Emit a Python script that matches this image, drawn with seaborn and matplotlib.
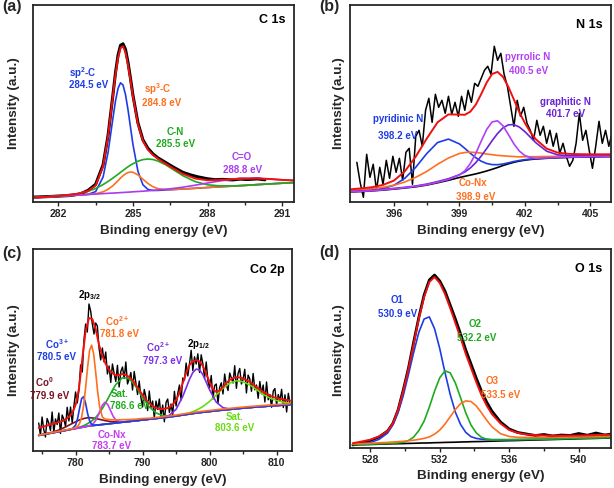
import numpy as np
import matplotlib
matplotlib.use("Agg")
import matplotlib.pyplot as plt
import seaborn as sns

# ---------------- (a) C 1s ----------------
a_x = [281.0, 282.0, 282.8, 283.2, 283.5, 283.8, 284.0, 284.2, 284.3, 284.4, 284.5, 284.6, 284.7, 284.8, 284.9,
       285.0, 285.2, 285.4, 285.6, 285.8, 286.0, 286.3, 286.6, 287.0, 287.5, 288.0, 288.5, 289.0, 289.5, 290.0,
       290.5, 291.0, 291.5]
a_base = [4.6, 6.1, 7.2, 7.8, 8.2, 8.7, 9.0, 9.2, 9.4, 9.5, 9.7, 9.8, 10.0, 10.1, 10.3, 10.4, 10.7, 11.0, 11.3,
          11.6, 11.9, 12.3, 12.7, 13.3, 14.0, 14.8, 15.5, 16.2, 16.9, 17.7, 18.4, 19.1, 19.8]
a_sp2 = [0, 0, 0, 0.2, 2.5, 16.6, 41.0, 75.7, 92.2, 104.4, 109.8, 107.5, 97.7, 82.6, 64.9, 47.4, 20.3, 6.5, 1.6,
         0.3, 0, 0, 0, 0, 0, 0, 0, 0, 0, 0, 0, 0, 0]
a_sp3 = [0, 0, 0, 0.1, 0.4, 1.8, 4.0, 7.5, 9.7, 12.1, 14.5, 16.7, 18.5, 19.6, 20.0, 19.6, 16.7, 12.1, 7.5, 4.0,
         1.8, 0.4, 0.1, 0, 0, 0, 0, 0, 0, 0, 0, 0, 0]
a_cn = [0, 0.2, 1.4, 3.3, 5.6, 9.0, 11.9, 15.1, 16.8, 18.5, 20.3, 22.0, 23.7, 25.4, 26.9, 28.2, 30.4, 31.7, 32.0,
        31.2, 29.4, 25.4, 20.3, 13.4, 6.7, 2.7, 0.9, 0.2, 0, 0, 0, 0, 0]
a_co = [0, 0, 0, 0, 0, 0, 0, 0, 0, 0, 0, 0, 0, 0, 0, 0.1, 0.1, 0.1, 0.2, 0.3, 0.4, 0.7, 1.1, 1.8, 3.1, 4.5, 5.9,
        6.8, 6.9, 6.2, 4.9, 3.3, 2.0]
a_fit = [4.6, 6.3, 8.6, 11.4, 16.7, 36.1, 65.9, 107.5, 128.1, 144.5, 154.3, 156.0, 149.9, 137.7, 122.1, 105.7,
         78.2, 61.4, 52.6, 47.4, 43.5, 38.8, 34.2, 28.5, 23.8, 22.0, 22.3, 23.2, 23.8, 23.9, 23.3, 22.4, 21.8]
a_data_x = [281.0, 281.5, 282.0, 282.5, 282.9, 283.2, 283.5, 283.8, 284.0, 284.2, 284.3, 284.4, 284.5, 284.6,
            284.7, 284.8, 284.9, 285.0, 285.2, 285.4, 285.6, 285.8, 286.0, 286.3, 286.6, 287.0, 287.3, 287.6,
            288.0, 288.3, 288.6, 289.0, 289.3, 289.6, 290.0, 290.3]
a_data = [5.2, 5.6, 6.2, 6.8, 8.5, 12.0, 18.0, 37.5, 67.0, 108.5, 130.0, 147.0, 157.0, 158.5, 153.0, 140.0,
          124.0, 107.0, 79.5, 62.5, 54.0, 48.5, 44.5, 40.0, 35.5, 30.0, 27.5, 25.5, 23.5, 22.6, 22.9, 22.4,
          23.2, 22.8, 23.4, 22.5]

# ---------------- (b) N 1s ----------------
b_x = [394.0, 394.5, 395.0, 395.5, 396.0, 396.5, 397.0, 397.5, 398.0, 398.5, 399.0, 399.25, 399.5, 399.75,
       400.0, 400.25, 400.5, 400.75, 401.0, 401.25, 401.5, 401.75, 402.0, 402.25, 402.5, 403.0, 403.5, 404.0,
       404.5, 405.0, 405.5, 406.0]
b_base = [10.3, 10.8, 11.4, 12.2, 13.2, 14.3, 15.5, 17.2, 19.5, 22.0, 24.8, 26.0, 27.2, 28.4, 29.8, 31.3, 33.0,
          34.8, 36.8, 38.5, 40.0, 41.2, 42.1, 42.8, 43.3, 44.0, 44.5, 44.9, 45.2, 45.4, 45.6, 45.7]
b_pyridinic = [0.5, 0.6, 0.8, 1.5, 3.8, 9.7, 19.5, 31.4, 40.3, 41.2, 33.6, 27.9, 21.9, 16.2, 11.3, 7.5, 4.7, 2.8,
               1.5, 1.0, 0.8, 0.6, 0.5, 0.4, 0.4, 0.3, 0.3, 0.2, 0.2, 0.2, 0.2, 0.2]
b_conx = [1.5, 1.8, 2.2, 2.8, 3.8, 6.0, 9.5, 13.6, 18.5, 22.3, 24.0, 23.8, 22.9, 21.4, 19.4, 17.0, 14.6, 12.1,
          9.7, 7.6, 5.8, 4.2, 3.5, 2.8, 2.3, 1.8, 1.5, 1.3, 1.2, 1.1, 1.0, 1.0]
b_pyrrolic = [0.2, 0.2, 0.2, 0.3, 0.3, 0.3, 0.4, 0.4, 0.5, 0.8, 2.5, 5.5, 11.5, 20.4, 31.3, 41.5, 47.4, 46.7,
              39.7, 29.1, 18.4, 10.0, 4.7, 1.9, 0.7, 0.5, 0.4, 0.4, 0.3, 0.3, 0.3, 0.3]
b_graphitic = [0.5, 0.5, 0.6, 0.6, 0.7, 0.7, 0.8, 1.0, 1.2, 1.6, 2.8, 4.3, 7.1, 11.2, 16.4, 22.4, 28.6, 34.0,
               37.7, 39.0, 37.7, 34.0, 28.6, 22.4, 16.4, 7.1, 3.0, 1.6, 1.2, 1.0, 0.9, 0.8]
b_fit = [13.0, 13.9, 15.1, 17.4, 21.7, 31.0, 45.7, 63.6, 80.0, 87.9, 87.7, 87.5, 90.6, 97.6, 108.2, 119.7,
         128.3, 130.4, 125.4, 115.2, 102.7, 90.0, 79.4, 70.3, 63.1, 53.7, 49.7, 48.4, 48.1, 48.0, 48.0, 48.0]
b_data_x = [394.30, 394.45, 394.60, 394.75, 394.90, 395.05, 395.20, 395.35, 395.50, 395.65, 395.80, 395.95,
            396.10, 396.25, 396.40, 396.55, 396.70, 396.85, 397.00, 397.15, 397.30, 397.45, 397.60, 397.75,
            397.90, 398.05, 398.20, 398.35, 398.50, 398.65, 398.80, 398.95, 399.10, 399.25, 399.40, 399.55,
            399.70, 399.85, 400.00, 400.15, 400.30, 400.45, 400.60, 400.75, 400.90, 401.05, 401.20, 401.35,
            401.50, 401.65, 401.80, 401.95, 402.10, 402.25, 402.40, 402.55, 402.70, 402.85, 403.00, 403.15,
            403.30, 403.45, 403.60, 403.75, 403.90, 404.05, 404.20, 404.35, 404.50, 404.65, 404.80, 404.95,
            405.10, 405.25, 405.40, 405.55, 405.70, 405.85, 406.00]
b_data = [40, 20, 5, 48, 25, 38, 12, 35, 18, 42, 24, 46, 30, 44, 22, 50, 54, 18, 66, 72, 56, 92, 104, 80, 108,
          95, 102, 89, 106, 88, 100, 86, 106, 92, 112, 100, 119, 116, 124, 132, 136, 128, 156, 142, 149, 128,
          116, 96, 76, 102, 86, 95, 79, 72, 62, 82, 67, 76, 59, 72, 56, 69, 49, 59, 46, 36, 42, 59, 89, 62, 72,
          52, 34, 56, 81, 59, 72, 56, 69]

# ---------------- (c) Co 2p ----------------
c_x = [774.5, 775.5, 776.5, 777.5, 778.5, 779.0, 779.5, 780.0, 780.3, 780.6, 780.9, 781.2, 781.5, 781.8, 782.1,
       782.4, 782.7, 783.0, 783.3, 783.6, 784.0, 784.4, 784.8, 785.2, 785.6, 786.0, 787.0, 788.0, 789.0, 790.0,
       791.0, 792.0, 793.0, 794.0, 795.0, 796.0, 797.0, 797.5, 798.0, 798.5, 799.0, 800.0, 801.0, 802.0,
       803.0, 804.0, 805.0, 806.0, 807.0, 808.0, 809.0, 810.0, 811.0, 812.0]
c_base = [15.6, 16.9, 18.1, 19.4, 20.6, 21.3, 21.9, 22.5, 22.9, 23.3, 23.6, 24.0, 24.4, 24.8, 25.1, 25.3, 25.5,
          25.8, 26.0, 26.2, 26.5, 26.8, 27.1, 27.4, 27.7, 28.0, 28.8, 29.5, 30.3, 31.0, 31.8, 32.5, 33.3, 34.0,
          35.0, 36.0, 37.0, 37.5, 38.0, 38.4, 38.8, 39.5, 40.3, 41.0, 41.6, 42.3, 42.9, 43.5, 44.0, 44.5, 45.0,
          45.5, 45.9, 46.3]
c_co0 = [0.1, 0.2, 0.6, 1.6, 3.4, 4.5, 5.6, 6.7, 7.3, 7.8, 8.2, 8.4, 8.5, 8.4, 8.2, 7.8, 7.3, 6.7, 6.1, 5.4, 4.5,
         3.6, 2.8, 2.1, 1.5, 1.1, 0.4, 0.1] + [0] * 26
c_co3 = [0] * 6 + [0.3, 3.3, 9.5, 19.5, 28.8, 30.4, 23.1, 12.5, 4.9, 1.4, 0.3] + [0] * 37
c_co2 = [0.2, 0.2, 0.3, 0.3, 0.4, 0.4, 0.5, 0.8, 1.8, 4.3, 10.2, 21.5, 39.0, 59.4, 75.8, 80.5, 71.4, 53.0, 33.0,
         17.6, 7.5, 5.0, 4.5, 4.0, 3.5, 3.0, 2.5, 2.0, 1.5, 1.5] + [1.0] * 24
c_conx = [0] * 13 + [0.1, 0.4, 1.0, 2.3, 4.8, 8.6, 13.3, 19.4, 22.0, 19.4, 13.3, 7.1, 3.0, 0.1] + [0] * 27
c_sat1 = [0] * 5 + [0.1, 0.1, 0.3, 0.4, 0.6, 0.9, 1.3, 1.9, 2.6, 3.5, 4.7, 6.1, 7.8, 9.9, 12.3, 16.1, 20.3, 24.9,
                    29.7, 34.2, 38.4, 44.6, 43.0, 34.2, 22.6, 12.3, 5.6, 2.1, 0.6, 0.2, 0] + [0] * 18
c_co2b = [0] * 31 + [0.1, 0.3, 1.7, 6.7, 18.6, 34.7, 41.0, 43.9, 42.6, 37.6, 21.7, 8.5, 2.3, 0.4, 0.1] + [0] * 8
c_sat2 = [0] * 34 + [0.2, 0.5, 1.2, 1.9, 2.8, 4.1, 5.7, 10.1, 15.8, 21.7, 26.3, 28.0, 26.3, 22.5, 17.5, 12.0,
                     8.0, 5.0, 3.0, 1.5]
c_fit_x = [774.5, 775.0, 775.5, 776.0, 776.5, 777.0, 777.5, 778.0, 778.5, 779.0, 779.5, 780.0, 780.5, 781.0,
           781.5, 782.0, 782.5, 783.0, 783.5, 784.0, 784.5, 785.0, 785.5, 786.0, 786.5, 787.0, 787.5, 788.0,
           788.5, 789.0, 789.5, 790.0, 790.5, 791.0, 791.5, 792.0, 792.5, 793.0, 793.5, 794.0, 794.5, 795.0,
           795.5, 796.0, 796.5, 797.0, 797.5, 798.0, 798.5, 799.0, 799.5, 800.0, 800.5, 801.0, 801.5, 802.0,
           802.5, 803.0, 803.5, 804.0, 804.5, 805.0, 805.5, 806.0, 806.5, 807.0, 807.5, 808.0, 808.5, 809.0,
           809.5, 810.0, 810.5, 811.0, 811.5, 812.0]
c_fit = [23, 24, 25, 26, 27, 28, 29, 30, 31.5, 34, 38, 46, 62, 92, 120, 133, 132, 122, 106, 95, 87, 81, 78, 75.5,
         76, 77, 76, 74, 71, 66, 61, 56, 51, 48, 45, 43, 42, 42, 42.5, 43.5, 46.5, 51, 58, 68, 78, 86, 89.5, 91,
         89.5, 85, 77, 69, 62, 59, 60.5, 64, 68, 71, 73, 73.7, 73.5, 72.5, 71, 69, 66.5, 64, 61.5, 59, 57, 55.5,
         54, 53, 52, 51.5, 51, 50.5]
c_data_x = [774.5, 774.75, 775.0, 775.25, 775.5, 775.75, 776.0, 776.25, 776.5, 776.75, 777.0, 777.25, 777.5,
            777.75, 778.0, 778.25, 778.5, 778.75, 779.0, 779.25, 779.5, 779.75, 780.0, 780.25, 780.5, 780.75,
            781.0, 781.25, 781.5, 781.75, 782.0, 782.25, 782.5, 782.75, 783.0, 783.25, 783.5, 783.75, 784.0,
            784.25, 784.5, 784.75, 785.0, 785.25, 785.5, 785.75, 786.0, 786.25, 786.5, 786.75, 787.0, 787.25,
            787.5, 787.75, 788.0, 788.25, 788.5, 788.75, 789.0, 789.25, 789.5, 789.75, 790.0, 790.25, 790.5,
            790.75, 791.0, 791.25, 791.5, 791.75, 792.0, 792.25, 792.5, 792.75, 793.0, 793.25, 793.5, 793.75,
            794.0, 794.25, 794.5, 794.75, 795.0, 795.25, 795.5, 795.75, 796.0, 796.25, 796.5, 796.75, 797.0,
            797.25, 797.5, 797.75, 798.0, 798.25, 798.5, 798.75, 799.0, 799.25, 799.5, 799.75, 800.0, 800.25,
            800.5, 800.75, 801.0, 801.25, 801.5, 801.75, 802.0, 802.25, 802.5, 802.75, 803.0, 803.25, 803.5,
            803.75, 804.0, 804.25, 804.5, 804.75, 805.0, 805.25, 805.5, 805.75, 806.0, 806.25, 806.5, 806.75,
            807.0, 807.25, 807.5, 807.75, 808.0, 808.25, 808.5, 808.75, 809.0, 809.25, 809.5, 809.75, 810.0,
            810.25, 810.5, 810.75, 811.0, 811.25, 811.5, 811.75, 812.0]
c_data = [28, 15.5, 34, 21.5, 14, 32.5, 28, 20.5, 39, 18.5, 32, 26.5, 38, 17.5, 36, 31.7, 24.5, 43.7, 30, 44, 28,
          45, 59, 48, 61, 86, 79, 111, 127, 119, 147, 140, 127, 117, 128, 125, 103, 91, 103, 89, 99, 77, 85,
          68.5, 87, 77.7, 69.5, 85.7, 64, 79.5, 84, 72.5, 89, 67, 72, 78.5, 61, 79.5, 68, 56.5, 70, 53.5, 44,
          61.5, 54, 40.5, 60, 43.5, 50, 33, 50, 41.5, 52, 34, 46, 29.2, 48.5, 52, 38.5, 47, 36.5, 59.7, 45,
          57.5, 66, 51, 73, 71, 88, 75, 87, 100.7, 80.5, 94.2, 87, 97.2, 78.5, 96.2, 87, 73, 89, 70, 63, 75.5,
          52, 65.5, 67, 47.7, 63.5, 68.2, 57, 77, 66, 60.5, 78, 73, 68, 85.3, 62.7, 77.6, 82.5, 67, 71.5, 81.7,
          58, 76, 72, 59.7, 77.5, 61.2, 66, 52.7, 69.5, 57.2, 66, 49, 69, 51.2, 56.5, 43.7, 60, 62.5, 46, 56.5,
          50, 61.7, 43.5, 56.2, 39, 57.7, 47.5]

# ---------------- (d) O 1s ----------------
d_x = [527.0, 527.5, 528.0, 528.5, 529.0, 529.3, 529.6, 529.9, 530.2, 530.5, 530.8, 531.1, 531.4, 531.7, 532.0,
       532.3, 532.6, 532.9, 533.2, 533.5, 533.8, 534.1, 534.4, 534.7, 535.0, 535.5, 536.0, 536.5, 537.0, 538.0,
       539.0, 540.0, 541.0, 541.9]
d_base = [3.1, 3.3, 3.5, 3.8, 4.0, 4.2, 4.3, 4.4, 4.6, 4.7, 4.9, 5.0, 5.1, 5.3, 5.4, 5.6, 5.7, 5.8, 6.0, 6.1, 6.3,
          6.4, 6.5, 6.7, 6.8, 7.1, 7.3, 7.5, 7.8, 8.2, 8.7, 9.2, 9.6, 10.1]
d_o1 = [1.0, 1.3, 2.0, 4.8, 11.0, 19.0, 31.0, 48.0, 69.0, 91.0, 111.0, 124.0, 126.0, 114.0, 94.0, 70.0, 48.0,
        30.0, 17.5, 9.5, 5.0, 3.2, 2.3, 2.0, 1.6, 1.3, 1.1, 1.0, 0.9, 0.8, 0.7, 0.6, 0.6, 0.5]
d_o2 = [0.2, 0.2, 0.3, 0.4, 0.5, 0.6, 0.8, 1.3, 2.8, 6.3, 12.6, 21.9, 35.8, 51.5, 64.8, 71.6, 69.5, 59.2, 44.2,
        29.0, 16.6, 8.8, 4.2, 2.1, 1.3, 1.0, 0.9, 0.8, 0.7, 0.6, 0.5, 0.5, 0.4, 0.4]
d_o3 = [1.0, 1.1, 1.2, 1.4, 1.6, 1.8, 2.0, 2.3, 2.7, 3.1, 3.7, 4.6, 6.0, 8.5, 12.5, 18.3, 25.5, 32.7, 38.4, 41.0,
        40.2, 35.7, 28.8, 21.2, 14.5, 7.2, 4.2, 3.2, 2.8, 2.4, 2.2, 2.0, 1.9, 1.8]
d_fit = [4.8, 6.5, 8.3, 11.5, 17.0, 24.5, 38.0, 57.0, 79.0, 104.0, 130.0, 151.0, 166.0, 171.0, 165.0, 154.0,
         140.0, 125.0, 110.0, 94.0, 80.0, 66.0, 53.0, 42.5, 34.0, 24.5, 18.0, 15.0, 13.5, 12.5, 12.3, 12.5, 13.0,
         13.3]
d_data_x = [527.0, 527.5, 528.0, 528.5, 529.0, 529.3, 529.6, 529.9, 530.2, 530.5, 530.8, 531.1, 531.4, 531.7,
            532.0, 532.3, 532.6, 532.9, 533.2, 533.5, 533.8, 534.1, 534.4, 534.7, 535.0, 535.5, 536.0, 536.5,
            537.0, 537.5, 538.0, 538.5, 539.0, 539.5, 540.0, 540.5, 541.0, 541.5, 541.9]
d_data = [3.0, 5.0, 7.5, 11.0, 17.0, 24.5, 38, 58, 80, 106, 131, 153, 168, 173, 167, 157, 143, 129, 114, 98, 84,
          70, 57, 46, 37, 26, 19, 15.5, 14, 12.5, 13.5, 12.0, 13, 12.5, 14.5, 12.8, 15, 13, 14]

BLUE = "#1e3ce6"
ORANGE = "#ff6f1e"
GREEN = "#1faa1f"
PURPLE = "#a83cf0"
RED = "#f01010"

sns.set_style("ticks")
plt.rcParams['font.family'] = ['Liberation Sans', 'DejaVu Sans']
plt.rcParams['font.weight'] = 'bold'
plt.rcParams['mathtext.fontset'] = 'custom'
plt.rcParams['mathtext.rm'] = 'Liberation Sans:bold'
plt.rcParams['mathtext.it'] = 'Liberation Sans:bold'
plt.rcParams['mathtext.bf'] = 'Liberation Sans:bold'

fig = plt.figure(figsize=(6.14, 4.88), dpi=100)
W, H = 614, 488


def add_axes(l, t, r, b):
    return fig.add_axes([l / W, 1 - b / H, (r - l) / W, (b - t) / H])


def line(ax, x, y, color, lw=1.2):
    sns.lineplot(x=x, y=y, ax=ax, color=color, lw=lw, sort=False, estimator=None)


def style(ax, xlim, ytop, major, minor):
    ax.set_xlim(*xlim)
    ax.set_ylim(0, ytop)
    ax.set_xticks(major)
    ax.set_xticks(minor, minor=True)
    ax.set_yticks([])
    ax.tick_params(axis='x', which='major', direction='out', length=3, width=1, labelsize=7.5, pad=2)
    ax.tick_params(axis='x', which='minor', direction='out', length=2, width=1)
    for s in ax.spines.values():
        s.set_linewidth(1.3)
    ax.set_xlabel('Binding energy (eV)', fontsize=9.7, fontweight='bold', labelpad=4)
    ax.set_ylabel('')


def note(ax, x, y, s, color, size=7):
    ax.text(x, y, s, color=color, fontsize=size, fontweight='bold', ha='center', va='center')


# (a)
ax = add_axes(33.4, 5, 294, 202.3)
line(ax, a_data_x, a_data, 'black', 2.2)
line(ax, a_x, np.add(a_base, a_sp2), BLUE)
line(ax, a_x, np.add(a_base, a_sp3), ORANGE)
line(ax, a_x, np.add(a_base, a_cn), GREEN)
line(ax, a_x, np.add(a_base, a_co), PURPLE)
line(ax, a_x, a_fit, RED, 1.4)
style(ax, (281.0, 291.47), 197.3, [282, 285, 288, 291], [283.5, 286.5, 289.5])
note(ax, 283.0, 129.6, 'sp$^{2}$-C', BLUE)
note(ax, 283.2, 117.3, '284.5 eV', BLUE)
note(ax, 286.0, 113.0, 'sp$^{3}$-C', ORANGE)
note(ax, 286.15, 99.6, '284.8 eV', ORANGE)
note(ax, 286.7, 70.0, 'C-N', GREEN)
note(ax, 286.7, 58.0, '285.5 eV', GREEN)
note(ax, 289.35, 45.0, 'C=O', PURPLE)
note(ax, 289.4, 32.3, '288.8 eV', PURPLE)
note(ax, 290.6, 182.3, 'C 1s', 'black', 9)

# (b)
ax = add_axes(350.3, 5, 611, 202.3)
line(ax, b_data_x, b_data, 'black', 1.1)
line(ax, b_x, b_base, 'black')
line(ax, b_x, np.add(b_base, b_pyridinic), BLUE)
line(ax, b_x, np.add(b_base, b_conx), ORANGE)
line(ax, b_x, np.add(b_base, b_graphitic), "#6a22d6")
line(ax, b_x, np.add(b_base, b_pyrrolic), "#b33ff5")
line(ax, b_x, b_fit, RED, 1.4)
style(ax, (394.0, 405.95), 197.3, [396, 399, 402, 405], [397.5, 400.5, 403.5])
note(ax, 402.12, 145.6, 'pyrrolic N', "#b33ff5")
note(ax, 402.19, 131.6, '400.5 eV', "#b33ff5")
note(ax, 403.88, 100.6, 'graphitic N', "#6a22d6")
note(ax, 403.88, 88.3, '401.7 eV', "#6a22d6")
note(ax, 396.2, 83.0, 'pyridinic N', BLUE)
note(ax, 396.15, 66.3, '398.2 eV', BLUE)
note(ax, 399.6, 19.6, 'Co-Nx', ORANGE)
note(ax, 399.75, 5.6, '398.9 eV', ORANGE)
note(ax, 404.97, 177.3, 'N 1s', 'black', 9)

# (c)
ax = add_axes(32.7, 249, 292, 451)
line(ax, c_data_x, c_data, 'black', 1.0)
line(ax, c_x, c_base, '#555555')
line(ax, c_x, np.add(c_base, c_co0), "#7a1020")
line(ax, c_x, np.add(c_base, c_sat2), "#66dd11")
line(ax, c_x, np.add(c_base, c_sat1), GREEN)
line(ax, c_x, np.add(c_base, c_co2b), "#7d2de8")
line(ax, c_x, np.add(c_base, c_conx), "#c63cf0")
line(ax, c_x, np.add(c_base, c_co3), BLUE)
line(ax, c_x, np.add(c_base, c_co2), ORANGE)
line(ax, c_fit_x, c_fit, RED, 1.4)
style(ax, (773.6, 812.3), 202, [780, 790, 800, 810], [775, 785, 795, 805])
note(ax, 782.05, 156.3, '2p$_{3/2}$', 'black')
note(ax, 786.2, 130.3, 'Co$^{2+}$', ORANGE)
note(ax, 786.6, 117.0, '781.8 eV', ORANGE)
note(ax, 777.2, 107.0, 'Co$^{3+}$', BLUE)
note(ax, 777.2, 93.7, '780.5 eV', BLUE)
note(ax, 775.4, 68.7, 'Co$^{0}$', "#7a1020")
note(ax, 776.2, 55.3, '779.9 eV', "#7a1020")
note(ax, 786.6, 57.0, 'Sat.', GREEN)
note(ax, 788.1, 44.7, '786.6 eV', GREEN)
note(ax, 785.4, 16.3, 'Co-Nx', "#c63cf0")
note(ax, 785.4, 5.3, '783.7 eV', "#c63cf0")
note(ax, 792.35, 103.7, 'Co$^{2+}$', "#7d2de8")
note(ax, 792.95, 90.3, '797.3 eV', "#7d2de8")
note(ax, 798.3, 107.0, '2p$_{1/2}$', 'black')
note(ax, 803.8, 33.7, 'Sat.', "#66dd11")
note(ax, 803.8, 23.0, '803.6 eV', "#66dd11")
note(ax, 808.6, 181.0, 'Co 2p', 'black', 9)

# (d)
ax = add_axes(350.3, 249, 611, 448)
line(ax, d_data_x, d_data, 'black', 2.0)
line(ax, d_x, d_base, 'black')
line(ax, d_x, np.add(d_base, d_o1), BLUE)
line(ax, d_x, np.add(d_base, d_o2), GREEN)
line(ax, d_x, np.add(d_base, d_o3), ORANGE)
line(ax, d_x, d_fit, RED, 1.4)
style(ax, (526.85, 541.86), 199, [528, 532, 536, 540], [530, 534, 538])
note(ax, 529.55, 148.0, 'O1', BLUE)
note(ax, 529.6, 134.0, '530.9 eV', BLUE)
note(ax, 534.05, 124.0, 'O2', GREEN)
note(ax, 534.15, 109.7, '532.2 eV', GREEN)
note(ax, 535.0, 67.3, 'O3', ORANGE)
note(ax, 535.5, 53.3, '533.5 eV', ORANGE)
note(ax, 540.57, 179.0, 'O 1s', 'black', 9)

# y labels and panel letters
for px, py in [(13.7, 103), (339, 103), (14, 350), (339, 350)]:
    fig.text(px / W, 1 - py / H, 'Intensity (a.u.)', rotation=90, ha='center', va='center',
             fontsize=9.7, fontweight='bold')
for s, px, py in [('(a)', 11.7, 6), ('(b)', 329.7, 6), ('(c)', 11.7, 253.3), ('(d)', 329.7, 252.3)]:
    fig.text(px / W, 1 - py / H, s, ha='center', va='center', fontsize=11.5, fontweight='bold')

fig.savefig('out.png', dpi=100)
